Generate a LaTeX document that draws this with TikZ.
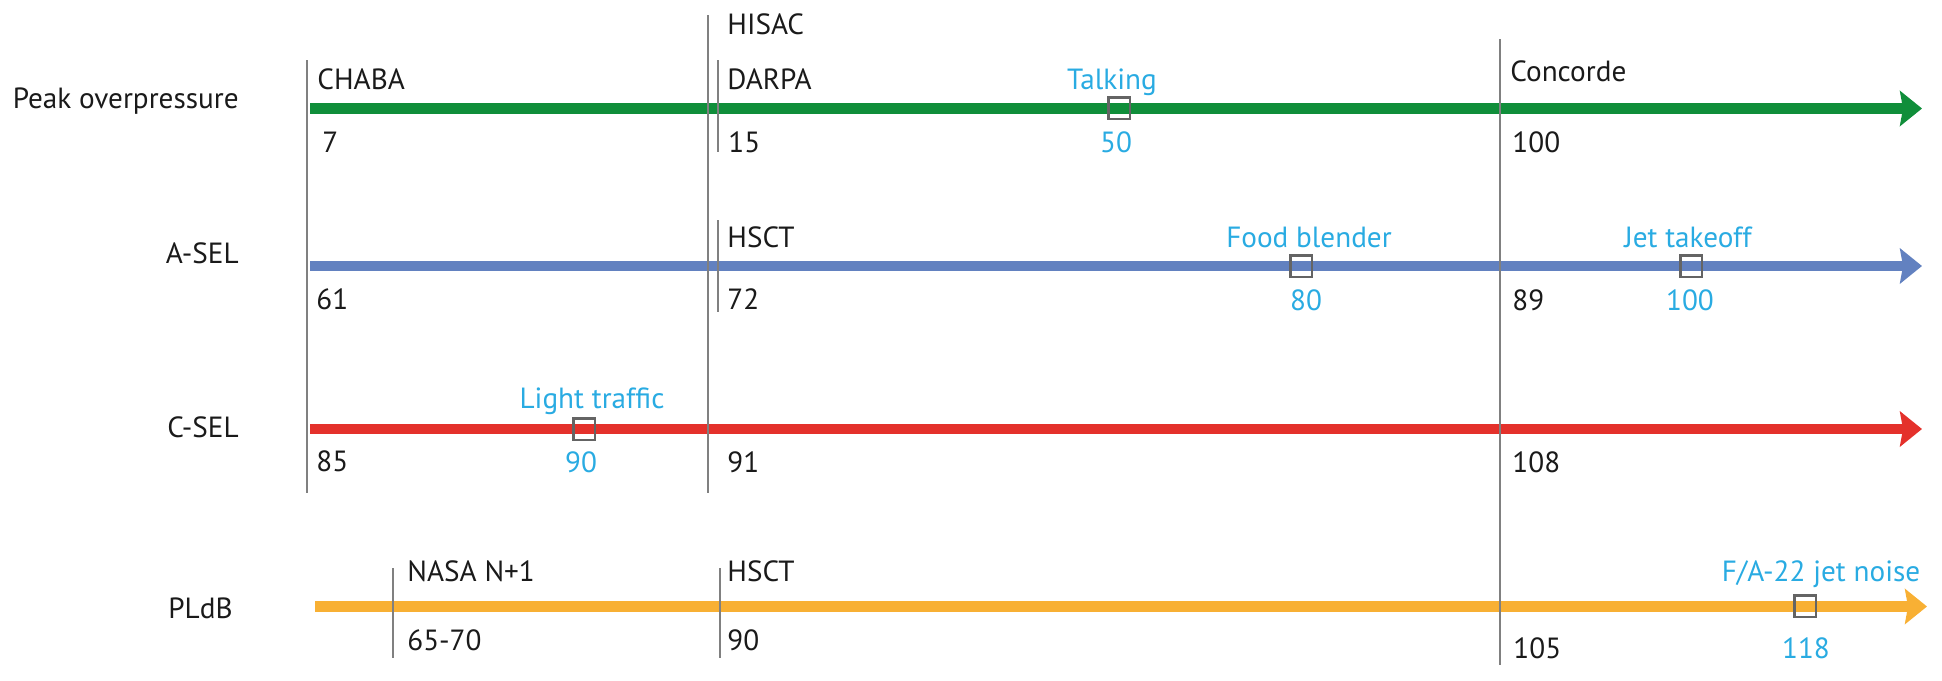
\documentclass[tikz,border=0pt]{standalone}
\usepackage{fontspec}
\setmainfont{PT Sans}
\usetikzlibrary{arrows.meta}
\definecolor{pgreen}{RGB}{16,142,58}
\definecolor{pblue}{RGB}{98,129,192}
\definecolor{pred}{RGB}{228,49,43}
\definecolor{porange}{RGB}{248,176,52}
\definecolor{lblue}{RGB}{41,171,226}
\definecolor{lgray}{RGB}{128,128,128}
\definecolor{boxgray}{RGB}{100,100,100}
\definecolor{tblack}{RGB}{26,26,26}
\begin{document}
\begin{tikzpicture}[x=0.5pt,y=-0.5pt,
  txtfont/.style={font=\fontsize{14.6}{16}\selectfont},
  lbl/.style={txtfont, inner sep=0pt, anchor=base west, text=tblack},
  rowlbl/.style={txtfont, inner sep=0pt, anchor=base east, text=tblack},
  ex/.style={txtfont, inner sep=0pt, anchor=base, text=lblue},
  refbox/.style={draw=boxgray, line width=1.3pt, minimum size=10.8pt, inner sep=0pt},
  vline/.style={draw=lgray, line width=1.1pt},
  axis/.style={line width=5.2pt, -{Stealth[length=11pt,width=17.5pt,inset=1.5pt]}},
]
\useasboundingbox (0,0) rectangle (1942,680);

% axes
\coordinate (g0) at (310,108.5); \coordinate (g1) at (1922,108.5);
\coordinate (b0) at (310,266);   \coordinate (b1) at (1922,266);
\coordinate (r0) at (310,429);   \coordinate (r1) at (1922,429);
\coordinate (o0) at (315,606.5); \coordinate (o1) at (1927,606.5);
\draw[axis, pgreen] (g0) -- (g1);
\draw[axis, pblue] (b0) -- (b1);
\draw[axis, pred] (r0) -- (r1);
\draw[axis, porange] (o0) -- (o1);

% vertical reference lines
\coordinate (chabaT) at (307,60);  \coordinate (chabaB) at (307,493);
\coordinate (hisacT) at (708,15);  \coordinate (hisacB) at (708,493);
\coordinate (darpaT) at (718,60);  \coordinate (darpaB) at (718,152);
\coordinate (hsctaT) at (718,220); \coordinate (hsctaB) at (718,312);
\coordinate (concT) at (1500,39);  \coordinate (concB) at (1500,665);
\coordinate (nasaT) at (393,568);  \coordinate (nasaB) at (393,658);
\coordinate (hsctpT) at (720,568); \coordinate (hsctpB) at (720,658);
\draw[vline] (chabaT) -- (chabaB);
\draw[vline] (hisacT) -- (hisacB);
\draw[vline] (darpaT) -- (darpaB);
\draw[vline] (hsctaT) -- (hsctaB);
\draw[vline] (concT) -- (concB);
\draw[vline] (nasaT) -- (nasaB);
\draw[vline] (hsctpT) -- (hsctpB);

% row labels
\node[rowlbl] (rPeak) at (239,108) {Peak overpressure};
\node[rowlbl] (rASEL) at (239,263) {A-SEL};
\node[rowlbl] (rCSEL) at (239,437) {C-SEL};
\node[rowlbl] (rPLdB) at (233,618) {PLdB};

% black labels
\node[lbl] (tHISAC) at (727,34) {HISAC};
\node[lbl] (tCHABA) at (317,89) {CHABA};
\node[lbl] (tDARPA) at (727,89) {DARPA};
\node[lbl] (tConc) at (1510,81) {Concorde};
\node[lbl] (v7) at (322,152) {7};
\node[lbl] (v15) at (728,152) {15};
\node[lbl] (v100) at (1512,152) {100};
\node[lbl] (tHSCTa) at (727,247) {HSCT};
\node[lbl] (v61) at (316,309) {61};
\node[lbl] (v72) at (727,309) {72};
\node[lbl] (v89) at (1512,310) {89};
\node[lbl] (v85) at (316,471) {85};
\node[lbl] (v91) at (727,472) {91};
\node[lbl] (v108) at (1512,472) {108};
\node[lbl] (tNASA) at (407,581) {NASA N+1};
\node[lbl] (tHSCTp) at (727,581) {HSCT};
\node[lbl] (v6570) at (407,650) {65-70};
\node[lbl] (v90p) at (727,650) {90};
\node[lbl] (v105) at (1513,658) {105};

% examples
\node[ex] (eTalk) at (1112,89) {Talking};
\node[refbox] (bTalk) at (1119,108) {};
\node[ex] (eTalkV) at (1116,152) {50};

\node[ex] (eFood) at (1309,247) {Food blender};
\node[refbox] (bFood) at (1301,266) {};
\node[ex] (eFoodV) at (1306,310) {80};

\node[ex] (eJet) at (1688,247) {Jet takeoff};
\node[refbox] (bJet) at (1691,266) {};
\node[ex] (eJetV) at (1690,310) {100};

\node[ex] (eLight) at (592,408) {Light traffic};
\node[refbox] (bLight) at (584,429) {};
\node[ex] (eLightV) at (581,472) {90};

\node[ex] (eFA) at (1821,581) {F/A-22 jet noise};
\node[refbox] (bFA) at (1805,606) {};
\node[ex] (eFAV) at (1806,658) {118};
\end{tikzpicture}
\end{document}
